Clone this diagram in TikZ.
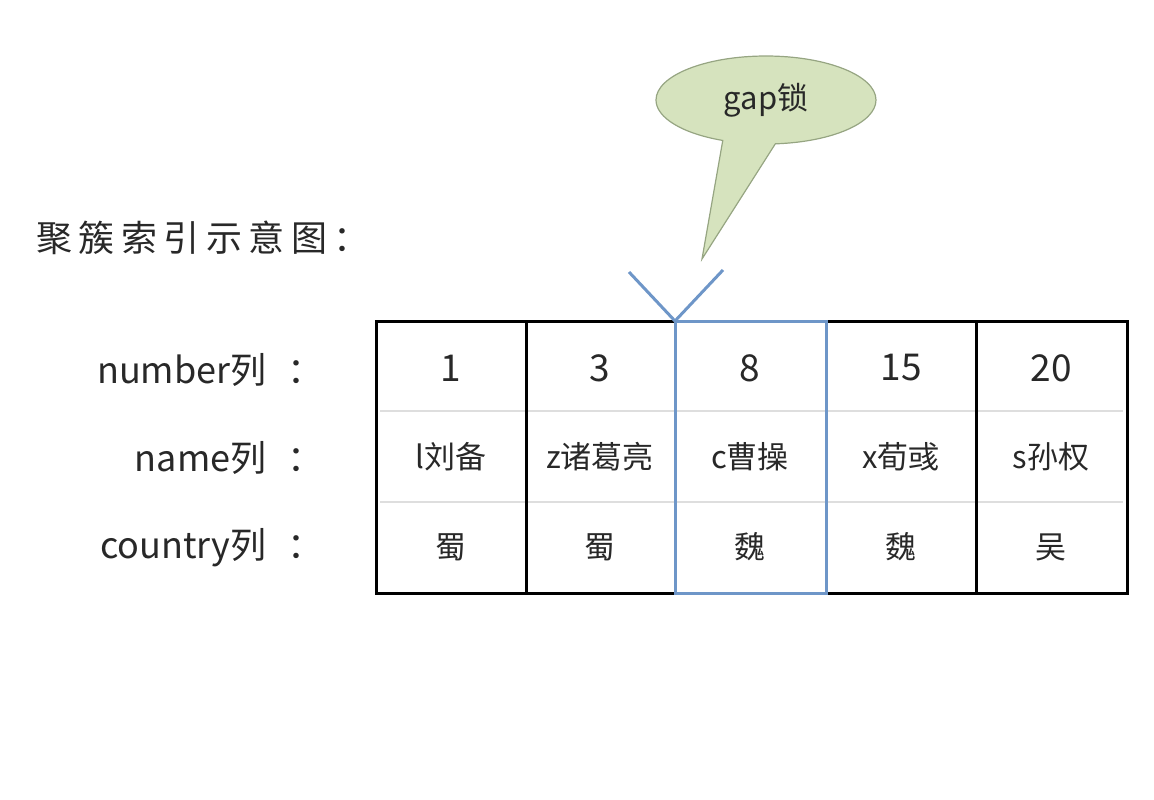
\documentclass[tikz,border=0pt]{standalone}
\usepackage{fontspec}
\setmainfont{Noto Sans CJK SC}
\newfontfamily\titlefont[LetterSpace=18]{Noto Sans CJK SC}
\usetikzlibrary{shapes.callouts}
\definecolor{bubblefill}{RGB}{214,227,190}
\definecolor{bubbleline}{RGB}{150,165,130}
\definecolor{lockblue}{RGB}{110,150,200}
\definecolor{rowgray}{RGB}{222,222,222}
\definecolor{txt}{RGB}{40,40,40}
\tikzset{
  cell/.style={minimum width=150pt,minimum height=90pt,inner sep=0pt,anchor=center,text=txt},
  numtext/.style={font=\fontsize{37}{40}\selectfont},
  nametext/.style={font=\fontsize{31}{34}\selectfont},
  lbl/.style={anchor=east,text=txt,font=\fontsize{36}{38}\selectfont},
}
\begin{document}
\begin{tikzpicture}[x=1pt,y=-1pt]
\useasboundingbox (0,0) rectangle (1154,800);
% title
\node[anchor=west,inner sep=0pt,text=txt,font=\titlefont\fontsize{36}{40}\selectfont] (title) at (36,238) {聚簇索引示意图：};
% row labels
\node[lbl] (lnum) at (327,370) {number列\hspace{21pt}：};
\node[lbl] (lname) at (327,458) {name列\hspace{21pt}：};
\node[lbl] (lcountry) at (327,548) {country列\hspace{21pt}：};
% table lines
\draw[rowgray,line width=2pt] (380,411) -- (1123,411);
\draw[rowgray,line width=2pt] (380,502) -- (1123,502);
\draw[black,line width=3pt] (376,321) rectangle (1127,593);
\draw[black,line width=3pt] (526,321) -- (526,593);
\draw[black,line width=3pt] (976,321) -- (976,593);
\draw[lockblue,line width=3pt] (675,321) rectangle (826,593);
% cells
\node[cell,numtext] (n1) at (451,368) {1};
\node[cell,numtext] (n2) at (600,368) {3};
\node[cell,numtext] (n3) at (750,368) {8};
\node[cell,numtext] (n4) at (901,368) {15};
\node[cell,numtext] (n5) at (1051,368) {20};
\node[cell,nametext] (m1) at (451,457) {l刘备};
\node[cell,nametext] (m2) at (600,457) {z诸葛亮};
\node[cell,nametext] (m3) at (750,457) {c曹操};
\node[cell,nametext] (m4) at (901,457) {x荀彧};
\node[cell,nametext] (m5) at (1051,457) {s孙权};
\node[cell,nametext] (c1) at (451,547) {蜀};
\node[cell,nametext] (c2) at (600,547) {蜀};
\node[cell,nametext] (c3) at (750,547) {魏};
\node[cell,nametext] (c4) at (901,547) {魏};
\node[cell,nametext] (c5) at (1051,547) {吴};
% V marker
\coordinate (vtip) at (675,321);
\coordinate (vleft) at (629,272);
\coordinate (vright) at (723,270);
\draw[lockblue,line width=3pt] (vleft) -- (vtip) -- (vright);
% callout
\node[ellipse callout,draw=bubbleline,fill=bubblefill,line width=1.2pt,text=txt,
  minimum width=220pt,minimum height=88pt,callout pointer arc=28,
  callout absolute pointer={(702,259)},font=\fontsize{31}{34}\selectfont] (bubble) at (766,100) {gap锁};
\end{tikzpicture}
\end{document}
